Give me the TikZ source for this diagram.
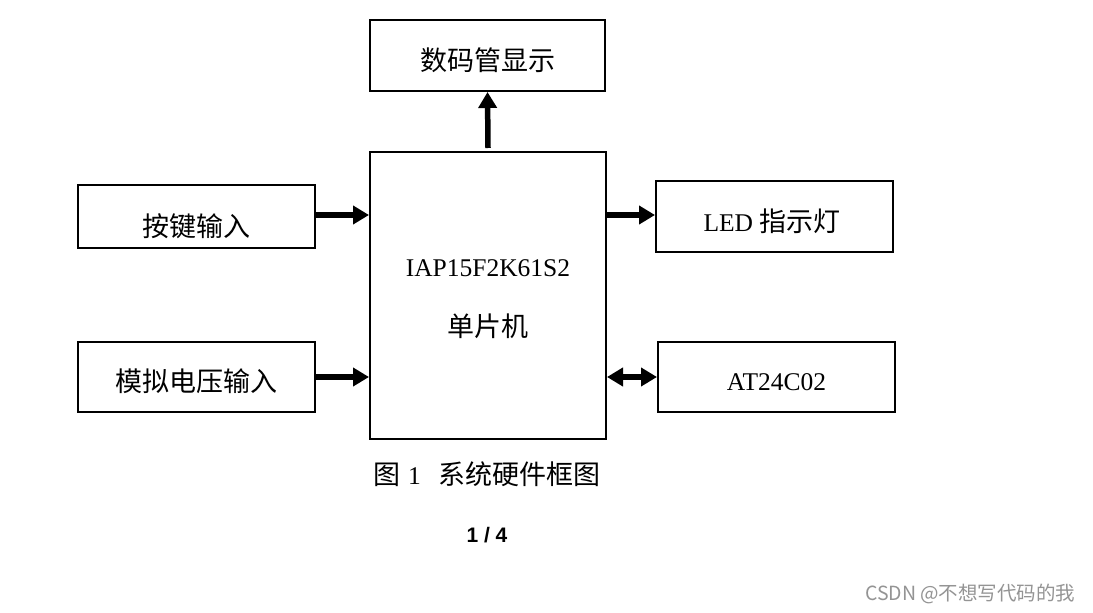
\documentclass[tikz,border=0pt]{standalone}
\usepackage{fontspec}
\setmainfont{Liberation Serif}
\newfontfamily\cjk{Noto Sans CJK SC}
\newfontfamily\lat{Liberation Serif}
\newfontfamily\sanslat{Liberation Sans}
\usetikzlibrary{arrows.meta}
\tikzset{
  blk/.style={draw=black, line width=2pt, fill=white, inner sep=0pt},
  lbl/.style={font=\fontsize{27}{32}\selectfont\cjk},
  latlbl/.style={font=\fontsize{25.5}{30}\selectfont\lat},
  conn/.style={line width=5.5pt, -{Triangle[length=16pt,width=18pt]}},
  biconn/.style={line width=5.5pt, {Triangle[length=16pt,width=18pt]}-{Triangle[length=16pt,width=18pt]}},
}
\begin{document}
\begin{tikzpicture}[x=1pt,y=-1pt]
\useasboundingbox (0,0) rectangle (1093,613);
\fill[white] (0,0) rectangle (1093,613);
% boxes
\node[blk, minimum width=235pt, minimum height=71pt] (disp) at (487.5,55.5) {};
\node[lbl] (dispt) at (487.5,60) {数码管显示};
\node[blk, minimum width=236pt, minimum height=287pt] (mcu) at (488,295.5) {};
\node[latlbl] (mcut1) at (488,268) {IAP15F2K61S2};
\node[lbl] (mcut2) at (488,326) {单片机};
\node[blk, minimum width=237pt, minimum height=63pt] (key) at (196.5,216.5) {};
\node[lbl] (keyt) at (196.5,226) {按键输入};
\node[blk, minimum width=237pt, minimum height=70pt] (adc) at (196.5,377) {};
\node[lbl] (adct) at (196.5,381) {模拟电压输入};
\node[blk, minimum width=237pt, minimum height=71pt] (led) at (774.5,216.5) {};
\node (ledt) at (772,221) {\fontsize{25.5}{30}\selectfont\lat LED \cjk\fontsize{27}{32}\selectfont 指示灯};
\node[blk, minimum width=237pt, minimum height=70pt] (eep) at (776.5,377) {};
\node[latlbl] (eept) at (776.5,382) {AT24C02};
% connectors
\coordinate (upS) at (488,148);
\draw[conn] (upS) -- (disp.south);
\draw[conn] (key.east |- 0,215) -- (mcu.west |- 0,215);
\draw[conn] (adc.east |- 0,377) -- (mcu.west |- 0,377);
\draw[conn] (mcu.east |- 0,215) -- (led.west |- 0,215);
\draw[biconn] (mcu.east |- 0,377) -- (eep.west |- 0,377);
% caption
\node (cap) at (487,474) {\cjk\fontsize{27}{32}\selectfont 图\hspace{8pt}\fontsize{25.5}{30}\selectfont\lat 1\hspace{18pt}\cjk\fontsize{27}{32}\selectfont 系统硬件框图};
\node[font=\fontsize{21}{24}\selectfont\sanslat\bfseries] (page) at (487,535) {1 / 4};
\node[anchor=east, text=black!42, font=\fontsize{19.5}{23}\selectfont\cjk] (wm) at (1079,594) {CSDN @不想写代码的我};
\end{tikzpicture}
\end{document}
